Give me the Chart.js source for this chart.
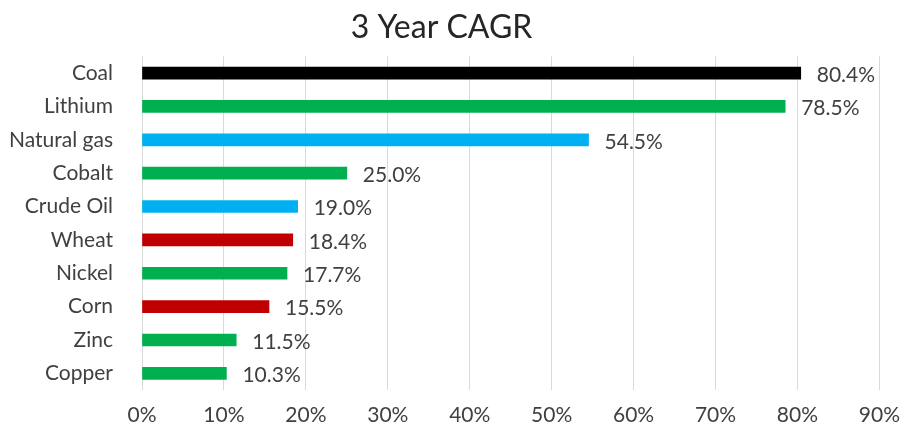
<!DOCTYPE html>
<html>
<head>
<meta charset="utf-8">
<script src="https://cdn.jsdelivr.net/npm/chart.js@4"></script>
<style>
  html, body { margin: 0; padding: 0; background: #fff; }
  #wrap { width: 913px; height: 439px; }
</style>
</head>
<body>
<div id="wrap"><canvas id="cagrChart"></canvas></div>
<script>
const categories = ['Coal', 'Lithium', 'Natural gas', 'Cobalt', 'Crude Oil', 'Wheat', 'Nickel', 'Corn', 'Zinc', 'Copper'];
const cagrValues = [80.4, 78.5, 54.5, 25.0, 19.0, 18.4, 17.7, 15.5, 11.5, 10.3];
const barColors = ['#000000', '#00B050', '#00B0F0', '#00B050', '#00B0F0', '#C00000', '#00B050', '#C00000', '#00B050', '#00B050'];
const xTicks = [0, 10, 20, 30, 40, 50, 60, 70, 80, 90];

const FONT = "Lato, 'Open Sans', sans-serif";
const TEXT = '#404040';

// draws the value labels to the right of each bar
const valueLabels = {
    id: 'valueLabels',
    afterDatasetsDraw(chart) {
        const ctx = chart.ctx;
        const meta = chart.getDatasetMeta(0);
        ctx.save();
        ctx.font = '21px ' + FONT;
        ctx.fillStyle = TEXT;
        ctx.textAlign = 'left';
        ctx.textBaseline = 'middle';
        meta.data.forEach((bar, i) => {
            ctx.fillText(cagrValues[i].toFixed(1) + '%', bar.x + 16, bar.y + 2);
        });
        ctx.restore();
    }
};

new Chart(document.getElementById('cagrChart').getContext('2d'), {
    type: 'bar',
    data: {
        labels: categories,
        datasets: [{
            data: cagrValues,
            backgroundColor: barColors,
            barThickness: 12
        }]
    },
    options: {
        indexAxis: 'y',
        responsive: true,
        maintainAspectRatio: false,
        animation: false,
        layout: { padding: { left: 0, right: 30, top: 0, bottom: 0 } },
        plugins: {
            legend: { display: false },
            tooltip: { enabled: false },
            title: {
                display: true,
                text: '3 Year CAGR',
                color: '#262626',
                font: { family: FONT, size: 32, weight: 'normal' },
                lineHeight: 1.1,
                padding: { top: 8, bottom: 10 }
            }
        },
        scales: {
            x: {
                min: 0,
                max: 90,
                afterBuildTicks: (scale) => { scale.ticks = xTicks.map(v => ({ value: v })); },
                afterFit: (scale) => { scale.height = 49; },
                grid: { color: '#d9d9d9', lineWidth: 1, drawTicks: false },
                border: { display: false },
                ticks: {
                    padding: 13,
                    color: TEXT,
                    font: { family: FONT, size: 21, weight: 'normal' },
                    callback: (v) => v + '%'
                }
            },
            y: {
                grid: { display: false, drawTicks: false },
                border: { display: false },
                afterFit: (scale) => { scale.width = 142; },
                ticks: {
                    padding: 29,
                    color: TEXT,
                    font: { family: FONT, size: 21, weight: 'normal' }
                }
            }
        }
    },
    plugins: [valueLabels]
});
</script>
</body>
</html>
